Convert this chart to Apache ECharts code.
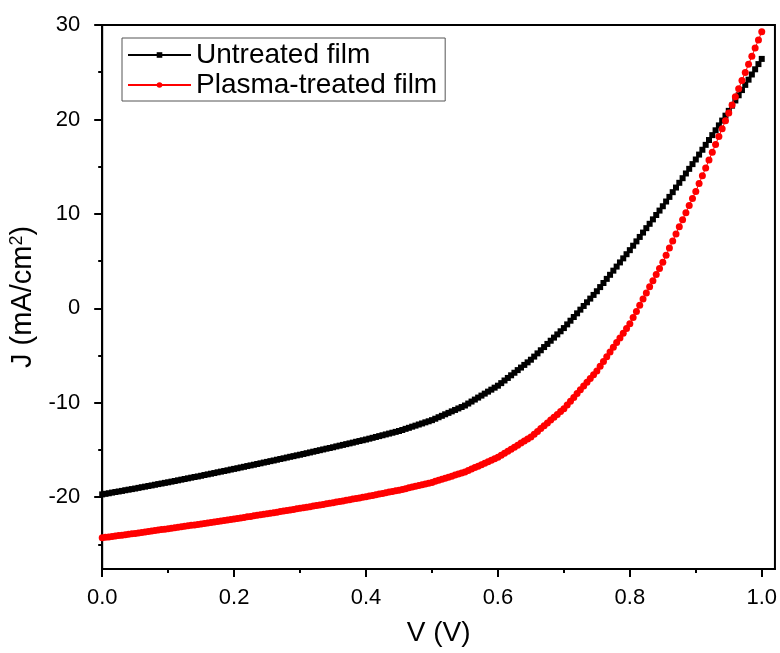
<!DOCTYPE html>
<html>
<head>
<meta charset="utf-8">
<script src="https://cdn.jsdelivr.net/npm/echarts@6/dist/echarts.min.js"></script>
<style>
  html, body { margin: 0; padding: 0; background: #fff; }
  #chart { width: 780px; height: 653px; }
</style>
</head>
<body>
<div id="chart"></div>
<script>
// voltage sweep: 0 V to 1 V in 5 mV steps
var vStart = 0;
var vStep = 0.005;

// J (mA/cm2)
var untreatedJ = [
  -19.70,-19.64,-19.58,-19.51,-19.45,-19.39,-19.33,-19.26,-19.20,-19.14,
  -19.08,-19.01,-18.94,-18.88,-18.81,-18.75,-18.68,-18.61,-18.55,-18.48,
  -18.42,-18.35,-18.28,-18.21,-18.14,-18.07,-18.00,-17.93,-17.86,-17.80,
  -17.73,-17.65,-17.58,-17.51,-17.44,-17.36,-17.29,-17.22,-17.15,-17.07,
  -17.00,-16.93,-16.85,-16.78,-16.70,-16.63,-16.56,-16.48,-16.41,-16.33,
  -16.26,-16.18,-16.11,-16.03,-15.95,-15.88,-15.80,-15.72,-15.65,-15.57,
  -15.50,-15.42,-15.34,-15.26,-15.18,-15.10,-15.02,-14.94,-14.86,-14.79,
  -14.71,-14.62,-14.54,-14.46,-14.38,-14.30,-14.22,-14.13,-14.05,-13.97,
  -13.89,-13.80,-13.71,-13.62,-13.53,-13.44,-13.35,-13.26,-13.17,-13.08,
  -12.99,-12.88,-12.76,-12.65,-12.53,-12.42,-12.30,-12.19,-12.07,-11.96,
  -11.84,-11.69,-11.53,-11.38,-11.22,-11.07,-10.91,-10.76,-10.60,-10.45,
  -10.29,-10.08,-9.87,-9.66,-9.45,-9.24,-9.03,-8.82,-8.61,-8.40,
  -8.19,-7.92,-7.64,-7.37,-7.09,-6.82,-6.54,-6.27,-5.99,-5.72,
  -5.44,-5.11,-4.77,-4.44,-4.10,-3.77,-3.43,-3.10,-2.76,-2.43,
  -2.09,-1.70,-1.31,-0.92,-0.53,-0.14,0.25,0.64,1.03,1.42,
  1.81,2.25,2.68,3.12,3.55,3.99,4.42,4.86,5.29,5.73,
  6.16,6.63,7.09,7.56,8.02,8.49,8.95,9.42,9.88,10.35,
  10.81,11.31,11.80,12.30,12.79,13.29,13.78,14.28,14.77,15.27,
  15.76,16.28,16.79,17.31,17.82,18.34,18.85,19.37,19.88,20.40,
  20.91,21.46,22.01,22.56,23.11,23.66,24.21,24.76,25.31,25.86,
  26.41
];

var plasmaJ = [
  -24.30,-24.25,-24.21,-24.16,-24.11,-24.06,-24.02,-23.97,-23.92,-23.87,
  -23.83,-23.78,-23.73,-23.68,-23.63,-23.58,-23.53,-23.48,-23.43,-23.38,
  -23.33,-23.28,-23.23,-23.18,-23.13,-23.08,-23.03,-22.98,-22.93,-22.88,
  -22.83,-22.77,-22.72,-22.67,-22.62,-22.56,-22.51,-22.46,-22.41,-22.35,
  -22.30,-22.25,-22.19,-22.14,-22.08,-22.03,-21.97,-21.92,-21.86,-21.81,
  -21.75,-21.69,-21.64,-21.58,-21.52,-21.46,-21.41,-21.35,-21.29,-21.23,
  -21.18,-21.12,-21.06,-21.00,-20.94,-20.88,-20.82,-20.76,-20.70,-20.64,
  -20.58,-20.51,-20.45,-20.39,-20.33,-20.26,-20.20,-20.14,-20.08,-20.01,
  -19.95,-19.88,-19.81,-19.74,-19.67,-19.60,-19.53,-19.46,-19.39,-19.32,
  -19.25,-19.17,-19.09,-19.00,-18.92,-18.84,-18.76,-18.67,-18.59,-18.51,
  -18.43,-18.32,-18.21,-18.10,-17.99,-17.88,-17.77,-17.66,-17.55,-17.44,
  -17.33,-17.17,-17.02,-16.86,-16.71,-16.55,-16.40,-16.24,-16.09,-15.93,
  -15.78,-15.56,-15.35,-15.13,-14.92,-14.70,-14.49,-14.27,-14.06,-13.84,
  -13.63,-13.33,-13.03,-12.73,-12.43,-12.13,-11.83,-11.53,-11.23,-10.93,
  -10.63,-10.23,-9.83,-9.43,-9.03,-8.63,-8.23,-7.83,-7.43,-7.03,
  -6.63,-6.13,-5.63,-5.13,-4.63,-4.13,-3.63,-3.13,-2.63,-2.13,
  -1.63,-0.98,-0.33,0.33,0.98,1.63,2.28,2.93,3.58,4.23,
  4.88,5.63,6.38,7.13,7.88,8.63,9.38,10.13,10.88,11.63,
  12.38,13.21,14.04,14.87,15.70,16.53,17.36,18.19,19.02,19.85,
  20.68,21.54,22.40,23.26,24.12,24.98,25.84,26.70,27.56,28.42,
  29.28
];

var xMajorTicks = [0, 0.2, 0.4, 0.6, 0.8, 1.0];
var xMinorTicks = [0.1, 0.3, 0.5, 0.7, 0.9];
var yMajorTicks = [-20, -10, 0, 10, 20, 30];
var yMinorTicks = [-25, -15, -5, 5, 15, 25];

var FONT = 'Liberation Sans, Arial, sans-serif';

var toPairs = function(jValues){
  var pairs = [];
  for (var i = 0; i < jValues.length; i++) {
    pairs.push([Number((vStart + i * vStep).toFixed(3)), jValues[i]]);
  }
  return pairs;
};

var chart = echarts.init(document.getElementById('chart'), null, { renderer: 'canvas' });

var option = {
  animation: false,
  backgroundColor: '#fff',
  textStyle: { fontFamily: FONT },
  grid: {
    left: 100, right: 4, top: 25, bottom: 84,
    show: true, borderColor: '#000', borderWidth: 2
  },
  legend: {
    left: 122, top: 38,
    orient: 'vertical',
    padding: [3, 8, 2, 5],
    itemGap: 2,
    itemWidth: 63,
    itemHeight: 7,
    borderColor: '#555',
    borderWidth: 1,
    textStyle: { fontSize: 28, color: '#000', fontFamily: FONT },
    data: ['Untreated film', 'Plasma-treated film']
  },
  xAxis: [{
    type: 'value',
    position: 'bottom',
    min: 0, max: 1.02,
    name: 'V (V)',
    nameLocation: 'middle',
    nameGap: 50,
    nameTextStyle: { fontSize: 28, color: '#000', fontFamily: FONT },
    axisLine: { show: true, onZero: false, lineStyle: { color: '#000', width: 2 } },
    axisTick: { show: true, customValues: xMajorTicks, length: 8, lineStyle: { color: '#000', width: 2 } },
    axisLabel: {
      customValues: xMajorTicks, margin: 18, fontSize: 22, color: '#000', fontFamily: FONT,
      formatter: function (v) { return Number(v).toFixed(1); }
    },
    splitLine: { show: false }
  }, {
    type: 'value',
    position: 'bottom',
    min: 0, max: 1.02,
    axisLine: { show: false, onZero: false },
    axisTick: { show: true, customValues: xMinorTicks, length: 4, lineStyle: { color: '#000', width: 2 } },
    axisLabel: { show: false },
    splitLine: { show: false }
  }],
  yAxis: [{
    type: 'value',
    position: 'left',
    min: -27.6, max: 30,
    name: 'J (mA/cm{sup|2})',
    nameLocation: 'middle',
    nameGap: 50,
    nameTextStyle: {
      fontSize: 29, color: '#000', fontFamily: FONT,
      rich: { sup: { fontSize: 18, color: '#000', fontFamily: FONT, verticalAlign: 'bottom', padding: [0, 0, 12, 0] } }
    },
    axisLine: { show: true, onZero: false, lineStyle: { color: '#000', width: 2 } },
    axisTick: { show: true, customValues: yMajorTicks, length: 8, lineStyle: { color: '#000', width: 2 } },
    axisLabel: { customValues: yMajorTicks, margin: 22, fontSize: 22, color: '#000', fontFamily: FONT },
    splitLine: { show: false }
  }, {
    type: 'value',
    position: 'left',
    min: -27.6, max: 30,
    axisLine: { show: false, onZero: false },
    axisTick: { show: true, customValues: yMinorTicks, length: 4, lineStyle: { color: '#000', width: 2 } },
    axisLabel: { show: false },
    splitLine: { show: false }
  }],
  series: [{
    name: 'Untreated film',
    type: 'line',
    xAxisIndex: 0, yAxisIndex: 0,
    data: toPairs(untreatedJ),
    symbol: 'rect',
    symbolSize: 6,
    showAllSymbol: true,
    color: '#000',
    lineStyle: { color: '#000', width: 1 },
    itemStyle: { color: '#000' },
    z: 2
  }, {
    name: 'Plasma-treated film',
    type: 'line',
    xAxisIndex: 0, yAxisIndex: 0,
    data: toPairs(plasmaJ),
    symbol: 'circle',
    symbolSize: 7,
    showAllSymbol: true,
    color: '#ff0000',
    lineStyle: { color: '#ff0000', width: 1 },
    itemStyle: { color: '#ff0000' },
    z: 3
  }]
};

chart.setOption(option);
</script>
</body>
</html>
